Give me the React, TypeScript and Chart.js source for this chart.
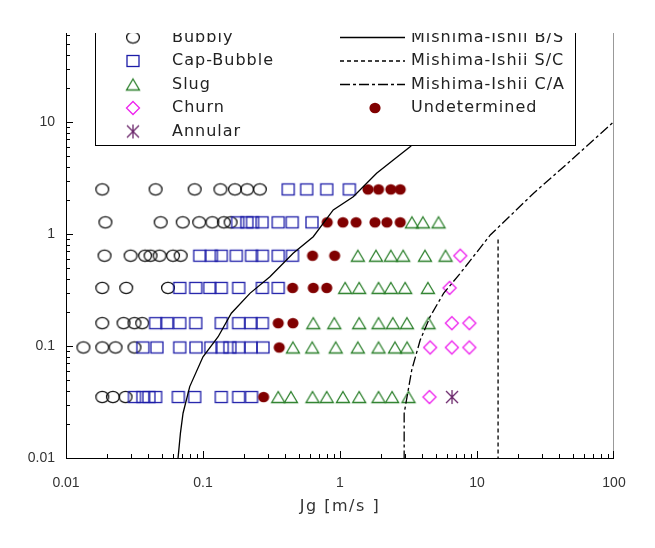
import React, { useEffect, useRef } from "react";
import { Chart, registerables } from "chart.js";

Chart.register(...registerables);

// ---- data ----
const jfLevels = [2.5, 1.27, 0.64, 0.33, 0.16, 0.097, 0.035];

const bubblyJg = [
  [0.0184, 0.0451, 0.0869, 0.134, 0.171, 0.21, 0.26],
  [0.0194, 0.0491, 0.0711, 0.0938, 0.117, 0.142, 0.159],
  [0.0191, 0.0296, 0.0378, 0.0414, 0.0482, 0.0604, 0.0687],
  [0.0184, 0.0275, 0.0555],
  [0.0184, 0.0263, 0.0316, 0.036],
  [0.0134, 0.0184, 0.023, 0.0316],
  [0.0184, 0.022, 0.0272],
];
const capBubbleJg = [
  [0.419, 0.571, 0.8, 1.17],
  [0.179, 0.209, 0.23, 0.27, 0.354, 0.448, 0.624],
  [0.0946, 0.115, 0.136, 0.175, 0.226, 0.271, 0.354, 0.45],
  [0.0676, 0.0885, 0.112, 0.136, 0.182, 0.271, 0.354],
  [0.0451, 0.0545, 0.0676, 0.0885, 0.136, 0.182, 0.224, 0.271],
  [0.0364, 0.0461, 0.0676, 0.0889, 0.114, 0.138, 0.157, 0.182, 0.224, 0.274],
  [0.0316, 0.0364, 0.0403, 0.0451, 0.0661, 0.0869, 0.136, 0.182, 0.226],
];
const slugJg = [
  [],
  [3.35, 4.03, 5.24],
  [1.35, 1.83, 2.35, 2.89, 4.17, 5.89],
  [1.09, 1.38, 1.91, 2.35, 2.99, 4.38],
  [0.638, 0.908, 1.38, 1.91, 2.43, 3.08, 4.43],
  [0.453, 0.627, 0.931, 1.35, 1.91, 2.52, 3.09],
  [0.354, 0.438, 0.63, 0.8, 1.05, 1.38, 1.91, 2.4, 3.16],
];
const churnJg = [[], [], [7.55], [6.31], [6.55, 8.79], [4.55, 6.55, 8.79], [4.5]];
const annularJg = [[], [], [], [], [], [], [6.57]];
const undeterminedJg = [
  [1.6, 1.91, 2.35, 2.75],
  [0.807, 1.05, 1.31, 1.8, 2.2, 2.75],
  [0.63, 0.914],
  [0.451, 0.638, 0.8],
  [0.354, 0.453],
  [0.36],
  [0.277],
];

const bsJg = [0.0655, 0.0684, 0.0715, 0.08, 0.1, 0.129, 0.161, 0.22, 0.308, 0.455, 0.638, 0.893, 1.25, 1.85, 2.45, 3.25, 4.5];
const bsJf = [0.0095, 0.0166, 0.0251, 0.0434, 0.08, 0.121, 0.196, 0.295, 0.416, 0.673, 0.946, 1.64, 2.15, 3.48, 4.58, 6.02, 9.0];
const scJg = [14.25, 14.25];
const scJf = [0.0095, 0.95];
const caJg = [2.94, 2.94, 3.34, 3.85, 4.55, 5.7, 7.55, 12.5, 25.9, 43, 100];
const caJf = [0.0095, 0.0251, 0.0611, 0.113, 0.183, 0.295, 0.446, 0.98, 2.31, 3.99, 10.07];

const xTicks = [0.01, 0.1, 1, 10, 100];
const yTicks = [0.01, 0.1, 1, 10];
const xRange = [0.01, 100];
const yRange = [0.01, 62.3];

const xTitle = "Jg [m/s ]";
const leftLegend = ["Bubbly", "Cap-Bubble", "Slug", "Churn", "Annular"];
const rightLegend = ["Mishima-Ishii B/S", "Mishima-Ishii S/C", "Mishima-Ishii C/A", "Undetermined"];

// ---- helpers ----
const toPoints = (rows: number[][]) =>
  rows.flatMap((r, i) => r.map((jg) => ({ x: jg, y: jfLevels[i] })));
const toLine = (xs: number[], ys: number[]) => xs.map((x, i) => ({ x, y: ys[i] }));

let markerCache: Record<string, HTMLCanvasElement> = {};

function makeMarker(kind: string): HTMLCanvasElement {
  const c = document.createElement("canvas");
  c.width = 18;
  c.height = 18;
  const g = c.getContext("2d")!;
  const cx = 9, cy = 9;
  g.lineWidth = 1.3;
  g.beginPath();
  switch (kind) {
    case "bubbly":
      g.strokeStyle = "#111";
      g.ellipse(cx, cy, 6.4, 5.6, 0, 0, Math.PI * 2);
      g.stroke();
      break;
    case "cap":
      g.strokeStyle = "#1c1ca8";
      g.strokeRect(cx - 6, cy - 5.5, 12, 11);
      break;
    case "slug":
      g.strokeStyle = "#2a7f2a";
      g.moveTo(cx, cy - 5.5);
      g.lineTo(cx + 6.5, cy + 5.5);
      g.lineTo(cx - 6.5, cy + 5.5);
      g.closePath();
      g.stroke();
      break;
    case "churn":
      g.strokeStyle = "#ee22ee";
      g.moveTo(cx, cy - 6.5);
      g.lineTo(cx + 6.5, cy);
      g.lineTo(cx, cy + 6.5);
      g.lineTo(cx - 6.5, cy);
      g.closePath();
      g.stroke();
      break;
    case "und":
      g.fillStyle = "#800000";
      g.ellipse(cx, cy, 5.6, 5.2, 0, 0, Math.PI * 2);
      g.fill();
      break;
    case "ann":
      g.strokeStyle = "#6a256a";
      g.moveTo(cx, cy - 7);
      g.lineTo(cx, cy + 7);
      g.moveTo(cx - 6, cy - 6);
      g.lineTo(cx + 6, cy + 6);
      g.moveTo(cx + 6, cy - 6);
      g.lineTo(cx - 6, cy + 6);
      g.stroke();
      break;
  }
  return c;
}

const tickFont = { family: "Liberation Sans", size: 14 };
const tickColor = "#333";

const axesPlugin = {
  id: "axesTicks",
  afterDraw(chart: any) {
    const { ctx, chartArea: a, scales } = chart;
    const xs = scales.x, ys = scales.y;
    ctx.save();
    ctx.lineWidth = 1;
    ctx.strokeStyle = "#999";
    ctx.beginPath();
    ctx.moveTo(a.right - 0.5, a.top);
    ctx.lineTo(a.right - 0.5, a.bottom);
    ctx.stroke();
    ctx.strokeStyle = "#000";
    ctx.beginPath();
    ctx.moveTo(a.left + 0.5, a.top);
    ctx.lineTo(a.left + 0.5, a.bottom + 0.5);
    ctx.lineTo(a.right, a.bottom + 0.5);
    ctx.stroke();
    ctx.beginPath();
    for (let d = -2; d < 2; d++) {
      for (let m = 1; m <= 9; m++) {
        const v = m * Math.pow(10, d);
        const px = Math.round(xs.getPixelForValue(v)) + 0.5;
        const len = m === 1 ? 7 : 4;
        ctx.moveTo(px, a.bottom);
        ctx.lineTo(px, a.bottom - len);
      }
    }
    {
      const px = Math.round(xs.getPixelForValue(100)) - 0.5;
      ctx.moveTo(px, a.bottom);
      ctx.lineTo(px, a.bottom - 7);
    }
    for (let d = -2; d < 2; d++) {
      for (let m = 1; m <= 9; m++) {
        const v = m * Math.pow(10, d);
        if (v > yRange[1]) continue;
        const py = Math.round(ys.getPixelForValue(v)) + 0.5;
        const len = m === 1 ? 7 : 4;
        ctx.moveTo(a.left, py);
        ctx.lineTo(a.left + len, py);
      }
    }
    ctx.stroke();
    // x-axis title
    ctx.font = '16px "DejaVu Sans"';
    ctx.letterSpacing = "1.5px";
    ctx.fillStyle = "#333";
    ctx.textAlign = "center";
    ctx.textBaseline = "middle";
    ctx.fillText(xTitle, (a.left + a.right) / 2, 507);
    ctx.restore();
  },
};

const legendPlugin = {
  id: "boxLegend",
  afterDatasetsDraw(chart: any) {
    const { ctx, chartArea: a } = chart;
    const markers = markerCache;
    ctx.save();
    ctx.beginPath();
    ctx.rect(a.left, a.top, a.right - a.left, a.bottom - a.top);
    ctx.clip();
    const L = 95.5, R = 575.5, B = 145.5, T = 0;
    ctx.fillStyle = "#fff";
    ctx.fillRect(L, T, R - L, B - T);
    ctx.strokeStyle = "#000";
    ctx.lineWidth = 1;
    ctx.strokeRect(L, T, R - L, B - T);
    const rowY = [37.5, 61, 84.5, 108, 131.5];
    ctx.font = '16px "DejaVu Sans"';
    ctx.letterSpacing = "1px";
    ctx.fillStyle = "#222";
    ctx.textBaseline = "middle";
    ctx.textAlign = "left";
    const leftKinds = ["bubbly", "cap", "slug", "churn", "ann"];
    leftLegend.forEach((t, i) => {
      const m = markers[leftKinds[i]];
      if (m) ctx.drawImage(m, 133 - 9, rowY[i] - 9);
      ctx.fillText(t, 172, rowY[i]);
    });
    const dashes = [[], [4, 3], [10, 3, 3, 3]];
    rightLegend.forEach((t, i) => {
      if (i < 3) {
        ctx.save();
        ctx.strokeStyle = "#000";
        ctx.lineWidth = 1.3;
        ctx.setLineDash(dashes[i]);
        ctx.beginPath();
        ctx.moveTo(340, rowY[i]);
        ctx.lineTo(405, rowY[i]);
        ctx.stroke();
        ctx.restore();
      } else if (markers.und) {
        ctx.drawImage(markers.und, 375 - 9, rowY[i] - 9);
      }
      ctx.fillText(t, 411, rowY[i]);
    });
    ctx.restore();
  },
};

export default function App() {
  const ref = useRef<HTMLCanvasElement>(null);
  useEffect(() => {
    if (!ref.current) return;
    const markers: Record<string, HTMLCanvasElement> = {};
    ["bubbly", "cap", "slug", "churn", "und", "ann"].forEach((k) => (markers[k] = makeMarker(k)));
    markerCache = markers;
    const lineDs = (label: string, data: any[], dash: number[]) => ({
      type: "line" as const,
      label,
      data,
      borderColor: "#000",
      borderWidth: 1.3,
      borderDash: dash,
      pointRadius: 0,
      fill: false,
      tension: 0,
      showLine: true,
    });
    const ptDs = (label: string, data: any[], kind: string) => ({
      label,
      data,
      pointStyle: markers[kind],
      pointRadius: 6,
      showLine: false,
    });
    const chart = new Chart(ref.current, {
      type: "scatter",
      data: {
        datasets: [
          lineDs(rightLegend[0], toLine(bsJg, bsJf), []),
          lineDs(rightLegend[1], toLine(scJg, scJf), [4, 3]),
          lineDs(rightLegend[2], toLine(caJg, caJf), [10, 3, 3, 3]),
          ptDs(rightLegend[3], toPoints(undeterminedJg), "und"),
          ptDs(leftLegend[4], toPoints(annularJg), "ann"),
          ptDs(leftLegend[3], toPoints(churnJg), "churn"),
          ptDs(leftLegend[2], toPoints(slugJg), "slug"),
          ptDs(leftLegend[1], toPoints(capBubbleJg), "cap"),
          ptDs(leftLegend[0], toPoints(bubblyJg), "bubbly"),
        ] as any,
      },
      options: {
        animation: false,
        responsive: false,
        maintainAspectRatio: false,
        layout: { padding: { top: 33, right: 41, bottom: 0, left: 0 } },
        plugins: { legend: { display: false }, tooltip: { enabled: false } },
        scales: {
          x: {
            type: "logarithmic",
            min: xRange[0],
            max: xRange[1],
            afterBuildTicks: (s: any) => {
              s.ticks = xTicks.map((v) => ({ value: v }));
            },
            afterFit: (s: any) => {
              s.height = 90;
            },
            grid: { display: false, drawTicks: false },
            border: { display: false },
            ticks: {
              autoSkip: false,
              maxRotation: 0,
              padding: 17,
              font: tickFont,
              color: tickColor,
              callback: (v: any) => String(v),
            },
          },
          y: {
            type: "logarithmic",
            min: yRange[0],
            max: yRange[1],
            afterBuildTicks: (s: any) => {
              s.ticks = yTicks.map((v) => ({ value: v }));
            },
            afterFit: (s: any) => {
              s.width = 66;
            },
            grid: { display: false, drawTicks: false },
            border: { display: false },
            ticks: {
              autoSkip: false,
              padding: 11,
              font: tickFont,
              color: tickColor,
              callback: (v: any) => String(v),
            },
          },
        },
      },
      plugins: [axesPlugin, legendPlugin],
    } as any);
    return () => chart.destroy();
  }, []);
  return (
    <div style={{ position: "absolute", left: 0, top: 0, width: 655, height: 548, background: "#fff" }}>
      <canvas ref={ref} width={655} height={548} style={{ display: "block" }} />
    </div>
  );
}
